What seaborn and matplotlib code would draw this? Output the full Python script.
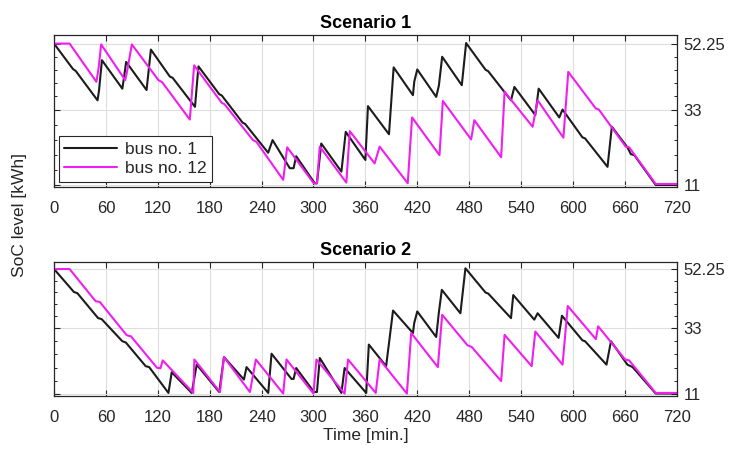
import numpy as np
import pandas as pd
import matplotlib
matplotlib.use("Agg")
import matplotlib.pyplot as plt
import seaborn as sns

# --- DATA ---
# Scenario 1
s1_bus1_t = [0, 22, 25, 50.3, 52, 55.4, 79, 81, 83.4, 107, 112, 134, 137, 163, 167, 191, 194,
             218, 221, 247.6, 252.7, 272.6, 277, 280, 301.5, 304, 309, 332.3, 337.3, 360, 363,
             387.3, 392.7, 415, 416.5, 420, 441.9, 445, 448.8, 471.5, 476.5, 499, 502, 528.4,
             532.3, 556.5, 560.4, 584.2, 588, 611, 614, 640, 645, 663, 667, 671, 695.7, 720]
s1_bus1_soc = [52.25, 44.8, 44.3, 35.7, 38.5, 47.4, 39.1, 42.5, 46.9, 38.7, 50.5, 42.6, 42.3, 33.8,
               45.6, 37.5, 37.1, 29.2, 28.8, 20.4, 24.1, 15.9, 15.9, 19.4, 11.5, 11.5, 23.1, 14.9,
               26.5, 18.3, 34.0, 25.8, 45.3, 37.2, 41.1, 44.7, 36.7, 40.0, 48.4, 40.1, 52.4, 44.6,
               44.2, 35.7, 39.6, 31.4, 39.1, 30.7, 33.0, 24.9, 24.6, 16.3, 28.0, 22.0, 20.0, 19.7,
               11.0, 11.0]

s1_bus12_t = [0, 18, 49, 51.5, 54.5, 82.3, 84, 90, 120.7, 125, 157, 162, 193.8, 197, 230, 234,
              265, 269.6, 300.3, 304, 307.3, 338, 342, 370.7, 376.5, 409, 414, 445.7, 449.6,
              482.3, 486, 517, 521, 553.4, 559.2, 589, 594.6, 626.5, 630, 661, 665, 695.7, 720]
s1_bus12_soc = [52.25, 52.25, 41.1, 45.0, 52.0, 41.6, 43.5, 52.0, 41.6, 41.0, 30.1, 45.9, 35.0,
                34.6, 24.1, 23.6, 12.5, 22.0, 11.5, 11.5, 22.2, 11.7, 26.7, 17.3, 22.2, 11.5, 30.7,
                19.7, 35.5, 24.3, 29.9, 19.1, 38.2, 28.0, 35.7, 24.8, 44.0, 33.3, 33.0, 22.2, 22.0,
                11.3, 11.3]

# Scenario 2
s2_bus1_t = [0, 23, 27, 51, 55, 79, 83, 106, 110, 132.3, 136.1, 159.2, 165, 191, 196.5, 219.6,
             222.6, 247.7, 251.5, 274.6, 277, 280, 300.6, 304, 307.3, 332.3, 336, 361, 364, 384,
             392, 415, 416.5, 420, 441.9, 445, 448.4, 469.9, 475.7, 499, 502, 528.4, 531, 555.3,
             559.2, 583.4, 587.3, 611, 614, 638.8, 644, 663, 669, 695.7, 720]
s2_bus1_soc = [52.25, 44.7, 44.3, 36.1, 35.8, 28.5, 28.1, 20.3, 20.0, 11.5, 18.3, 11.5, 20.8, 11.8,
               23.3, 15.9, 20.0, 11.5, 24.4, 16.1, 16.1, 19.7, 11.8, 11.8, 23.0, 11.5, 19.7, 11.5,
               27.4, 20.3, 38.6, 31.2, 34.5, 38.3, 29.9, 38.0, 45.4, 37.7, 52.5, 44.5, 44.2, 36.1,
               43.7, 35.6, 37.7, 29.6, 36.9, 28.8, 28.5, 20.8, 28.5, 20.8, 20.0, 11.3, 11.3]

s2_bus12_t = [0, 18, 48, 53, 84, 89, 119, 123, 125.7, 161, 162.3, 191.9, 196.5, 226.5, 233.4, 265,
              268.8, 300, 303.4, 336, 340, 372, 376.5, 408, 413, 443.8, 448.8, 478, 483, 517, 521,
              552.3, 556.5, 588, 594, 626.5, 629.2, 660.3, 665, 695.7, 720]
s2_bus12_soc = [52.25, 52.25, 41.7, 41.4, 30.5, 30.1, 19.8, 19.6, 22.2, 11.5, 22.5, 11.8, 23.3,
                11.8, 22.5, 11.3, 22.5, 11.3, 22.5, 11.3, 22.5, 11.5, 22.5, 11.3, 31.2, 20.0, 37.2,
                27.2, 26.6, 15.4, 30.6, 20.3, 31.7, 20.8, 40.1, 29.2, 33.4, 22.5, 22.2, 11.5, 11.5]

scenarios = ["Scenario 1", "Scenario 2"]
bus_labels = ["bus no. 1", "bus no. 12"]
x_ticks = list(range(0, 721, 60))
y_ticks = [11, 33, 52.25]
y_tick_labels = ["11", "33", "52.25"]

frames = []
for scen, series in zip(scenarios, [[(s1_bus1_t, s1_bus1_soc), (s1_bus12_t, s1_bus12_soc)],
                                    [(s2_bus1_t, s2_bus1_soc), (s2_bus12_t, s2_bus12_soc)]]):
    for bus, (t, soc) in zip(bus_labels, series):
        frames.append(pd.DataFrame({"scenario": scen, "bus": bus, "t": t, "soc": soc}))
df = pd.concat(frames, ignore_index=True)

# --- STYLE ---
sns.set_style("white")
plt.rcParams['font.family'] = ['Liberation Sans', 'DejaVu Sans']
text_col = '#262626'
palette = {"bus no. 1": '#1c1c1c', "bus no. 12": '#f01ef0'}

fig = plt.figure(figsize=(7.3, 4.51), dpi=100)
ax_top = fig.add_axes([0.074, 0.586, 0.853, 0.336])
ax_bot = fig.add_axes([0.074, 0.122, 0.853, 0.298])

minor_y = [11 + 4.4 * k for k in range(1, 5)] + [33 + 3.85 * k for k in range(1, 5)]

for ax, scen in zip([ax_top, ax_bot], scenarios):
    sub = df[df["scenario"] == scen]
    sns.lineplot(data=sub, x="t", y="soc", hue="bus", palette=palette, estimator=None,
                 sort=False, linewidth=1.5, ax=ax, legend=(scen == "Scenario 1"))
    ax.set_xlim(0, 720)
    ax.set_ylim(10.5, 54.7)
    ax.set_xticks(x_ticks)
    ax.set_yticks(y_ticks)
    ax.set_yticklabels(y_tick_labels)
    ax.set_yticks(minor_y, minor=True)
    ax.yaxis.tick_right()
    ax.tick_params(axis='both', which='major', direction='in', length=4.5, width=0.8,
                   colors=text_col, labelsize=12, top=True, bottom=True, left=True, right=True,
                   labelleft=False, labelright=True)
    ax.tick_params(axis='y', which='minor', direction='in', length=2.5, width=0.7,
                   colors=text_col, left=True, right=True)
    ax.tick_params(axis='y', which='major', pad=5)
    ax.tick_params(axis='x', which='major', pad=10)
    ax.grid(True, which='major', color='#dedede', linewidth=0.8)
    ax.set_axisbelow(True)
    for sp in ax.spines.values():
        sp.set_color(text_col)
        sp.set_linewidth(0.9)
    ax.set_title(scen, fontsize=13, fontweight='bold', color='black', pad=5)
    ax.set_ylabel("")
    ax.set_xlabel("")

ax_bot.set_xlabel("Time [min.]", fontsize=12.5, color=text_col, labelpad=2)
fig.text(0.027, 0.523, "SoC level [kWh]", rotation=90, va='center', ha='center',
         fontsize=12.5, color=text_col)

leg = ax_top.legend(loc='lower left', fontsize=12.5, frameon=True, fancybox=False,
                    handlelength=3.0, handletextpad=0.5, borderpad=0.3, labelspacing=0.25,
                    borderaxespad=0.3)
leg.get_frame().set_edgecolor(text_col)
leg.get_frame().set_linewidth(0.8)
leg.get_frame().set_alpha(1.0)

fig.savefig("out.png", dpi=100)
